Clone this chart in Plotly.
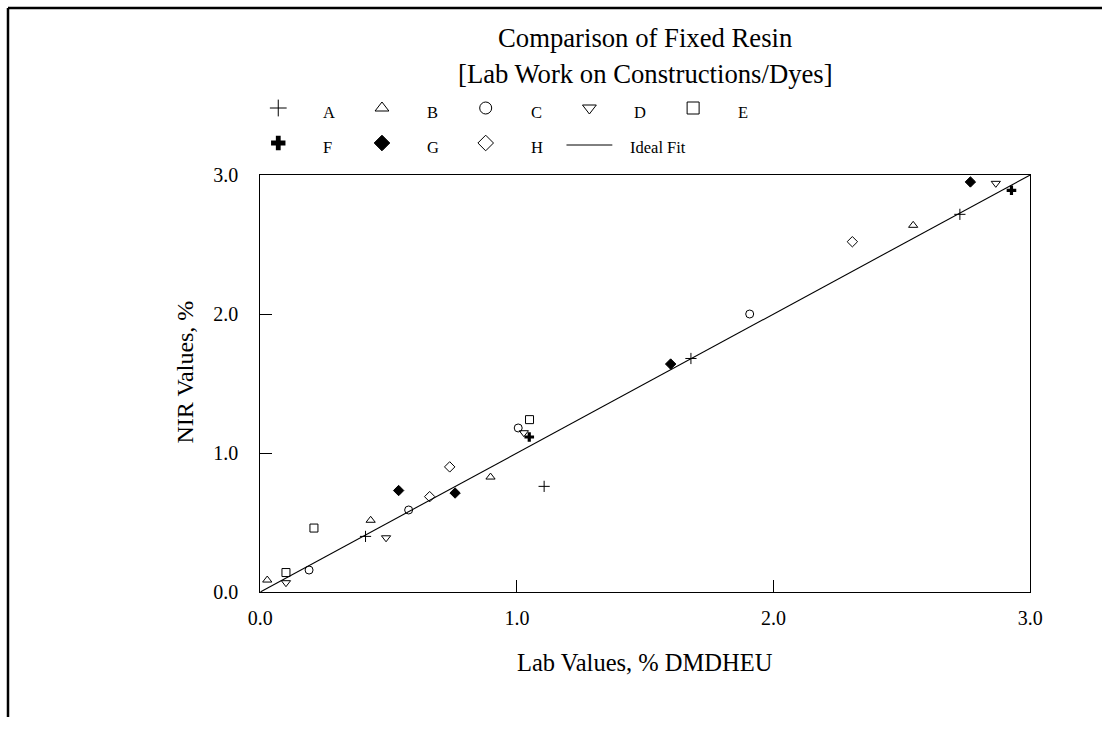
import plotly.graph_objects as go

# ---- data ----
A_x = [0.41, 1.106, 1.678, 2.726]
A_y = [0.40, 0.76, 1.68, 2.717]
B_x = [0.027, 0.43, 0.897, 2.544]
B_y = [0.086, 0.516, 0.827, 2.638]
C_x = [0.19, 0.578, 1.005, 1.907]
C_y = [0.158, 0.59, 1.18, 2.00]
D_x = [0.10, 0.49, 1.027, 2.866]
D_y = [0.067, 0.39, 1.146, 2.94]
E_x = [0.10, 0.209, 1.049]
E_y = [0.14, 0.46, 1.24]
F_x = [1.048, 2.927]
F_y = [1.115, 2.89]
G_x = [0.539, 0.759, 1.599, 2.767]
G_y = [0.73, 0.712, 1.64, 2.95]
H_x = [0.66, 0.738, 2.307]
H_y = [0.686, 0.90, 2.52]
fit_x = [0.0, 3.0]
fit_y = [0.0, 3.0]

series_names = ["A", "B", "C", "D", "E", "F", "G", "H"]
series_x = [A_x, B_x, C_x, D_x, E_x, F_x, G_x, H_x]
series_y = [A_y, B_y, C_y, D_y, E_y, F_y, G_y, H_y]
symbols = ["cross-thin-open", "triangle-up-open", "circle-open", "triangle-down-open",
           "square-open", "cross", "diamond", "diamond-open"]

tick_vals = [0, 1, 2, 3]
tick_text = ["0.0", "1.0", "2.0", "3.0"]

title_lines = ["Comparison of Fixed Resin", "[Lab Work on Constructions/Dyes]"]
x_title = "Lab Values, % DMDHEU"
y_title = "NIR Values, %"

W, H = 1119, 732
# observed placement of the figure on the photographed page
OX, OY, SW, SH = 5, 6, 1098, 710
FONT = "Liberation Serif, Times New Roman, serif"


def fx(sx):
    return (sx - OX) / SW


def fy(sy):
    return 1 - (sy - OY) / SH


fig = go.Figure()

for name, xs, ys, sym in zip(series_names, series_x, series_y, symbols):
    fig.add_trace(go.Scatter(
        x=xs, y=ys, mode="markers", name=name, showlegend=False,
        marker=dict(symbol=sym, size=8, color="black",
                    line=dict(color="black", width=1 if sym != "cross" else 0)),
        xaxis="x", yaxis="y"))

fig.add_trace(go.Scatter(x=fit_x, y=fit_y, mode="lines", name="Ideal Fit",
                         showlegend=False, line=dict(color="black", width=1.1),
                         xaxis="x", yaxis="y"))

# ---- hand-drawn legend on a screen-pixel overlay axis ----
leg_entries = series_names + ["Ideal Fit"]
leg_symbols = symbols + [None]
col0, col_step, row0, row_step, text_gap = 277, 104, 107, 35, 43
for i, (name, sym) in enumerate(zip(leg_entries, leg_symbols)):
    r, c = divmod(i, 5)
    cx = col0 + c * col_step
    cy = row0 + r * row_step
    if sym is None:
        fig.add_trace(go.Scatter(x=[cx - 23, cx + 23], y=[cy + 2, cy + 2], mode="lines",
                                 line=dict(color="black", width=1),
                                 showlegend=False, hoverinfo="skip",
                                 xaxis="x2", yaxis="y2"))
        tx = cx + 39
    else:
        fig.add_trace(go.Scatter(x=[cx], y=[cy], mode="markers",
                                 marker=dict(symbol=sym, size=12, color="black",
                                             line=dict(color="black", width=1 if sym != "cross" else 0)),
                                 showlegend=False, hoverinfo="skip",
                                 xaxis="x2", yaxis="y2"))
        tx = cx + text_gap
    fig.add_annotation(x=tx, y=cy + 4, xref="x2", yref="y2", text=name, showarrow=False,
                       xanchor="left", yanchor="middle",
                       font=dict(family=FONT, size=16.5, color="black"))

# titles
fig.add_annotation(x=fx(645), y=fy(37), xref="paper", yref="paper", text=title_lines[0],
                   showarrow=False, xanchor="center", yanchor="middle",
                   font=dict(family=FONT, size=26.7, color="black"))
fig.add_annotation(x=fx(645), y=fy(73), xref="paper", yref="paper", text=title_lines[1],
                   showarrow=False, xanchor="center", yanchor="middle",
                   font=dict(family=FONT, size=26.7, color="black"))
fig.add_annotation(x=fx(645), y=fy(661), xref="paper", yref="paper", text=x_title,
                   showarrow=False, xanchor="center", yanchor="middle",
                   font=dict(family=FONT, size=24.5, color="black"))
fig.add_annotation(x=fx(183), y=fy(371), xref="paper", yref="paper", text=y_title,
                   showarrow=False, xanchor="center", yanchor="middle", textangle=-90,
                   font=dict(family=FONT, size=24, color="black"))

# outer frame (top and left edges)
fig.add_shape(type="line", xref="paper", yref="paper", x0=fx(6), x1=1.0,
              y0=fy(7), y1=fy(7), line=dict(color="black", width=2.5))
fig.add_shape(type="line", xref="paper", yref="paper", x0=fx(6), x1=fx(6),
              y0=0, y1=fy(7), line=dict(color="black", width=2.5))

axis_common = dict(showline=True, mirror=True, linecolor="black", linewidth=1,
                   showgrid=False, zeroline=False, ticks="inside", ticklen=12,
                   tickcolor="black", tickwidth=1,
                   tickfont=dict(family=FONT, size=20, color="black"),
                   tickvals=tick_vals, ticktext=tick_text, range=[0, 3])

fig.update_layout(
    width=W, height=H, autosize=False,
    margin=dict(l=0, r=0, t=0, b=0),
    paper_bgcolor="white", plot_bgcolor="rgba(0,0,0,0)",
    showlegend=False,
    xaxis=dict(domain=[fx(259), fx(1031)], anchor="y", ticklabelstandoff=8, **axis_common),
    yaxis=dict(domain=[fy(591), fy(174)], anchor="x", ticklabelstandoff=17, **axis_common),
    xaxis2=dict(domain=[0, 1], range=[OX, OX + SW], visible=False, anchor="y2"),
    yaxis2=dict(domain=[0, 1], range=[OY + SH, OY], visible=False, anchor="x2"),
)

fig.write_html("out.html", config={"displayModeBar": False},
               post_script="document.body.style.margin='-4px 0 0 -5px';")
